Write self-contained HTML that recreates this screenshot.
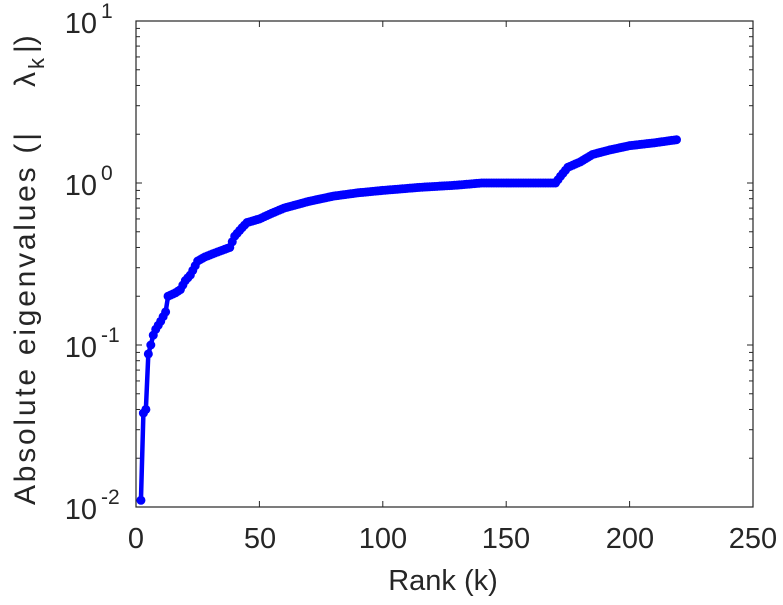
<!DOCTYPE html>
<html><head><meta charset="utf-8"><style>
html,body{margin:0;padding:0;background:#fff;}
svg text{font-family:"Liberation Sans",sans-serif;fill:#262626;}
</style></head><body>
<svg id="s" width="783" height="600" xmlns="http://www.w3.org/2000/svg">
<rect width="783" height="600" fill="#fff"/>
<g id="ticks" stroke="#262626" stroke-width="1"></g>
<rect x="136" y="21" width="617" height="486" fill="none" stroke="#262626" stroke-width="1.2"/>
<g font-size="29" text-anchor="middle">
<text x="136" y="548">0</text><text x="260" y="548">50</text><text x="383" y="548">100</text>
<text x="506" y="548">150</text><text x="630" y="548">200</text><text x="753" y="548">250</text>
</g>
<g font-size="29" text-anchor="end">
<text x="97" y="33">10</text><text x="97" y="195">10</text><text x="97" y="357">10</text><text x="97" y="519">10</text>
</g>
<g font-size="21" text-anchor="start">
<text x="101" y="18">1</text><text x="101" y="180">0</text><text x="101" y="342">-1</text><text x="101" y="504">-2</text>
</g>
<text x="443" y="590" font-size="29" text-anchor="middle">Rank (k)</text>
<g transform="translate(35,505) rotate(-90)" font-size="30">
<text x="0" y="0" textLength="372" lengthAdjust="spacing">Absolute eigenvalues (|</text>
<text x="418" y="0">λ</text>
<text x="436" y="9" font-size="22">k</text>
<text x="452" y="0">|)</text>
</g>
<g id="data"></g>
</svg>
<script>
var X=function(k){return 136+k*617/250;},Y=function(v){return 183-162*Math.log10(v);};
var t=document.getElementById('ticks'),h='';
for(var i=1;i<5;i++){var x=136+i*123.4;h+='<line x1="'+x+'" y1="507" x2="'+x+'" y2="501"/><line x1="'+x+'" y1="21" x2="'+x+'" y2="27"/>';}
for(var d=-2;d<1;d++)for(var m=1;m<10;m++){var y=Y(m*Math.pow(10,d));h+='<line x1="136" y1="'+y+'" x2="'+(m==1?142:140)+'" y2="'+y+'"/><line x1="753" y1="'+y+'" x2="'+(m==1?747:749)+'" y2="'+y+'"/>';}
t.innerHTML=h;
var kp=[[2,0.011],[3,0.038],[4,0.04],[5,0.088],[6,0.1],[7,0.115],[8,0.125],[10,0.14],[12,0.16],[13,0.2],[16,0.21],[18,0.22],[20,0.25],[22,0.27],[25,0.33],[28,0.35],[32,0.37],[38,0.4],[40,0.47],[43,0.53],[45,0.57],[50,0.6],[55,0.65],[60,0.7],[70,0.77],[80,0.83],[90,0.87],[100,0.9],[115,0.94],[130,0.97],[140,1.0],[170,1.0],[172,1.1],[175,1.25],[180,1.35],[185,1.5],[192,1.6],[200,1.7],[210,1.77],[219,1.85]];
var pts=[];
for(var k=2;k<=219;k++){var j=0;while(j<kp.length-1&&kp[j+1][0]<k)j++;var a=kp[j],b=kp[Math.min(j+1,kp.length-1)];var f=b[0]==a[0]?0:(k-a[0])/(b[0]-a[0]);var v=Math.exp(Math.log(a[1])+f*(Math.log(b[1])-Math.log(a[1])));pts.push([X(k),Y(v)]);}
var s='<polyline fill="none" stroke="#0000ff" stroke-width="4.5" points="'+pts.map(function(p){return p.join(',')}).join(' ')+'"/>';
pts.forEach(function(p){s+='<circle cx="'+p[0]+'" cy="'+p[1]+'" r="4.5" fill="#0000ff"/>';});
document.getElementById('data').innerHTML=s;
</script>
</body></html>
